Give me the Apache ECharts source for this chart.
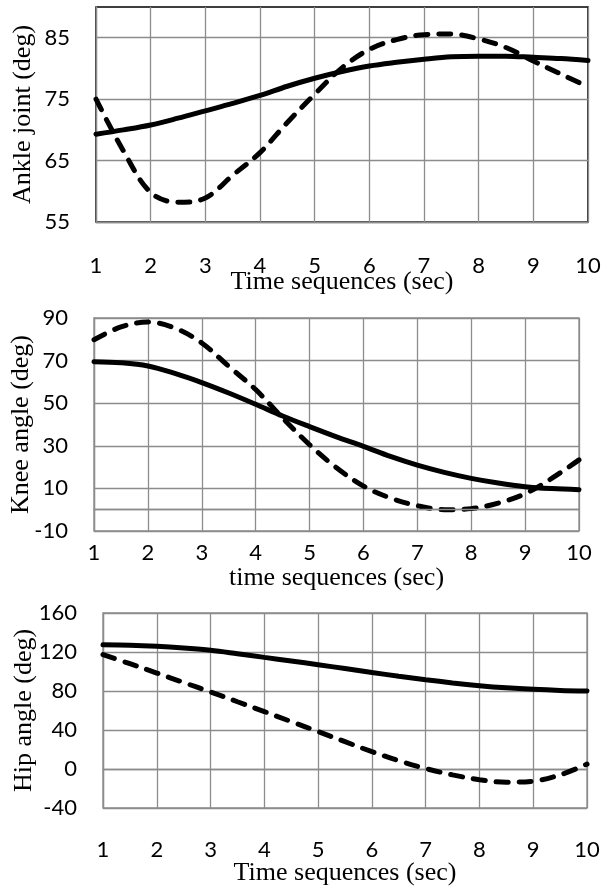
<!DOCTYPE html>
<html>
<head>
<meta charset="utf-8">
<script src="https://cdn.jsdelivr.net/npm/echarts@6/dist/echarts.min.js"></script>
<style>
  html, body { margin: 0; padding: 0; background: #fff; }
  #main { width: 604px; height: 890px; }
</style>
</head>
<body>
<div id="main"></div>
<script>
// sample times (sec)
const timeSteps = [1, 1.5, 2, 2.5, 3, 3.5, 4, 4.5, 5, 5.5, 6, 6.5, 7, 7.5, 8, 8.5, 9, 9.5, 10];

// ankle joint (deg)
const ankleSolid  = [69.3, 70.0, 70.8, 71.9, 73.1, 74.3, 75.6, 77.1, 78.4, 79.5, 80.4, 81.0, 81.5, 81.9, 82.0, 82.0, 81.8, 81.6, 81.3];
const ankleDashed = [75.0, 66.6, 59.8, 58.2, 58.9, 62.6, 66.3, 71.2, 75.8, 80.1, 83.1, 84.7, 85.5, 85.6, 84.8, 83.4, 81.2, 79.1, 77.0];

// knee angle (deg)
const kneeSolid  = [69.5, 69.0, 67.5, 64.0, 59.7, 54.8, 49.5, 44.0, 39.0, 34.2, 29.7, 25.0, 20.9, 17.5, 14.7, 12.5, 10.8, 9.9, 9.4];
const kneeDashed = [79.8, 85.8, 88.1, 85.3, 78.3, 67.3, 56.4, 43.1, 30.5, 19.7, 11.1, 5.5, 1.9, 0.0, 0.5, 3.1, 7.5, 14.8, 23.4];

// hip angle (deg)
const hipSolid  = [127.5, 127.0, 125.8, 124.0, 121.7, 118.2, 114.5, 110.8, 107.0, 103.0, 99.0, 95.2, 91.6, 88.3, 85.5, 83.3, 81.7, 80.6, 80.0];
const hipDashed = [117.3, 108.0, 98.4, 88.7, 79.0, 69.0, 58.9, 48.6, 38.4, 28.0, 17.8, 8.5, 0.5, -6.0, -11.0, -13.5, -12.5, -6.0, 5.0];

const xTitles = ['Time sequences (sec)', 'time sequences (sec)', 'Time sequences (sec)'];
const yTitles = ['Ankle joint (deg)', 'Knee angle (deg)', 'Hip angle (deg)'];

const pair = (ys) => ys.map((v, i) => [timeSteps[i], v]);

const gridColor = '#8c8c8c';
const tickFont = { fontFamily: 'Lato', fontSize: 22, color: '#000' };
const titleFont = { fontFamily: 'Liberation Serif', fontSize: 26, color: '#000' };

var chart = echarts.init(document.getElementById('main'), null, { renderer: 'canvas' });

const grids = [
  { left: 96, top: 7, width: 492, height: 215, show: true, borderColor: '#000', borderWidth: 1.5 },
  { left: 92, top: 318, width: 487, height: 213, show: true, borderColor: gridColor, borderWidth: 1.3 },
  { left: 103, top: 613, width: 484, height: 195, show: true, borderColor: gridColor, borderWidth: 1.3 }
];

const xGaps = [47, 34, 52];
const xMargins = [33, 11, 31];

const xAxes = grids.map((g, i) => ({
  type: 'value',
  gridIndex: i,
  min: 1, max: 10, interval: 1,
  name: xTitles[i],
  nameLocation: 'middle',
  nameGap: xGaps[i],
  nameMoveOverlap: false,
  nameTextStyle: titleFont,
  axisLine: { show: true, lineStyle: { color: gridColor, width: 1.3 } },
  axisTick: { show: false },
  axisLabel: Object.assign({ margin: xMargins[i] }, tickFont),
  splitLine: { show: true, lineStyle: { color: gridColor, width: 1.3 } }
}));

const yAxes = [
  { min: 55, max: 90, interval: 10, nameGap: 60, showMax: false },
  { min: -10, max: 90, interval: 20, nameGap: 60, showMax: true },
  { min: -40, max: 160, interval: 40, nameGap: 66, showMax: true }
].map((a, i) => ({
  type: 'value',
  gridIndex: i,
  min: a.min, max: a.max, interval: a.interval,
  name: yTitles[i],
  nameLocation: 'middle',
  nameGap: a.nameGap,
  nameMoveOverlap: false,
  nameTextStyle: titleFont,
  axisLine: { show: true, lineStyle: { color: gridColor, width: 1.3 } },
  axisTick: { show: false },
  axisLabel: Object.assign({ margin: 26, showMaxLabel: a.showMax }, tickFont),
  splitLine: { show: true, showMaxLine: a.showMax, lineStyle: { color: gridColor, width: 1.3 } }
}));

const solidStyle = { color: '#000', width: 5, cap: 'round' };
const dashStyle = { color: '#000', width: 5, type: [12, 11], cap: 'round' };

const makeLine = (idx, ys, style) => ({
  type: 'line',
  xAxisIndex: idx,
  yAxisIndex: idx,
  data: pair(ys),
  smooth: 0.35,
  showSymbol: false,
  silent: true,
  lineStyle: style
});

const series = [
  makeLine(0, ankleSolid, solidStyle),
  makeLine(0, ankleDashed, dashStyle),
  makeLine(1, kneeSolid, solidStyle),
  makeLine(1, kneeDashed, dashStyle),
  makeLine(2, hipSolid, solidStyle),
  makeLine(2, hipDashed, dashStyle)
];

// horizontal axis crossing line at 0 on the knee panel
series[2].markLine = {
  silent: true,
  symbol: 'none',
  label: { show: false },
  lineStyle: { color: gridColor, width: 1.3, type: 'solid' },
  data: [{ yAxis: 0 }]
};

var option = {
  animation: false,
  backgroundColor: '#fff',
  grid: grids,
  xAxis: xAxes,
  yAxis: yAxes,
  series: series
};

option && chart.setOption(option);
</script>
</body>
</html>
